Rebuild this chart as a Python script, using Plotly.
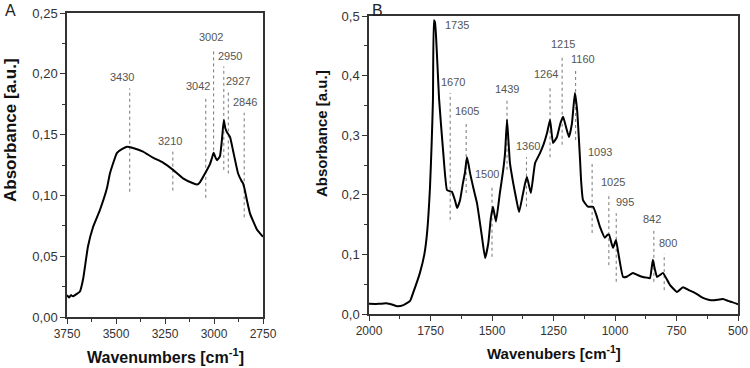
import plotly.graph_objects as go

# ---------------- Panel A data ----------------
A_wn = [3750, 3740, 3730, 3720, 3700, 3684, 3668, 3643, 3617, 3582, 3546, 3531, 3495, 3470,
        3444, 3413, 3362, 3311, 3260, 3209, 3158, 3107, 3085, 3071, 3046, 3020, 3010, 3002,
        2992, 2985, 2970, 2960, 2950, 2942, 2934, 2918, 2903, 2877, 2860, 2852, 2845, 2832,
        2816, 2781, 2750]
A_abs = [0.018, 0.016, 0.018, 0.017, 0.019, 0.021, 0.031, 0.058, 0.074, 0.088, 0.106, 0.118,
         0.135, 0.138, 0.140, 0.139, 0.136, 0.131, 0.127, 0.121, 0.114, 0.110, 0.109, 0.111,
         0.118, 0.126, 0.131, 0.135, 0.131, 0.129, 0.132, 0.145, 0.162, 0.155, 0.152, 0.148,
         0.137, 0.118, 0.112, 0.110, 0.106, 0.096, 0.085, 0.072, 0.066]

A_peaks = [3430, 3210, 3042, 3002, 2950, 2927, 2846]
A_top = [0.188, 0.136, 0.181, 0.221, 0.206, 0.185, 0.168]
A_bot = [0.103, 0.104, 0.098, 0.137, 0.121, 0.118, 0.082]
A_xticks = [3750, 3500, 3250, 3000, 2750]
A_yticks = [0.00, 0.05, 0.10, 0.15, 0.20, 0.25]

# ---------------- Panel B data ----------------
B_wn = [2000, 1960, 1930, 1900, 1886, 1860, 1833, 1821, 1793, 1775, 1764, 1752, 1745, 1740,
        1736, 1732, 1728, 1722, 1715, 1699, 1683, 1672, 1663, 1650, 1642, 1630, 1618, 1610,
        1602, 1595, 1589, 1575, 1561, 1541, 1528, 1515, 1505, 1496, 1484, 1468, 1455, 1447,
        1439, 1433, 1427, 1414, 1400, 1390, 1375, 1365, 1358, 1342, 1325, 1305, 1290, 1276,
        1264, 1252, 1236, 1222, 1211, 1200, 1187, 1175, 1163, 1154, 1142, 1138, 1130, 1110,
        1089, 1075, 1061, 1041, 1030, 1024, 1015, 1008, 996, 984, 967, 950, 927, 906, 886,
        870, 858, 846, 838, 829, 815, 805, 777, 748, 724, 700, 683, 662, 642, 620, 602, 580,
        561, 540, 524, 504, 500]
B_abs = [0.017, 0.017, 0.018, 0.015, 0.013, 0.015, 0.022, 0.035, 0.069, 0.100, 0.136, 0.213,
         0.290, 0.360, 0.493, 0.490, 0.470, 0.420, 0.360, 0.275, 0.208, 0.206, 0.205, 0.190,
         0.178, 0.191, 0.220, 0.237, 0.263, 0.250, 0.236, 0.210, 0.186, 0.130, 0.094, 0.119,
         0.160, 0.180, 0.155, 0.203, 0.240, 0.270, 0.326, 0.290, 0.253, 0.220, 0.190, 0.171,
         0.200, 0.220, 0.230, 0.203, 0.253, 0.270, 0.285, 0.304, 0.326, 0.287, 0.297, 0.320,
         0.331, 0.315, 0.297, 0.320, 0.371, 0.342, 0.258, 0.225, 0.191, 0.180, 0.180, 0.165,
         0.146, 0.128, 0.133, 0.133, 0.120, 0.111, 0.124, 0.096, 0.062, 0.063, 0.069, 0.065,
         0.062, 0.061, 0.060, 0.091, 0.075, 0.062, 0.066, 0.069, 0.049, 0.037, 0.045, 0.040,
         0.037, 0.032, 0.027, 0.024, 0.023, 0.024, 0.025, 0.022, 0.020, 0.017, 0.016]

B_peaks = [1670, 1605, 1500, 1439, 1360, 1264, 1215, 1160, 1093, 1025, 995, 842, 800]
B_top = [0.371, 0.322, 0.216, 0.359, 0.263, 0.384, 0.435, 0.409, 0.253, 0.203, 0.169, 0.141, 0.101]
B_bot = [0.158, 0.203, 0.096, 0.242, 0.180, 0.263, 0.284, 0.292, 0.136, 0.082, 0.054, 0.054, 0.040]
B_main_peak = 1735
B_main_peak_y = 0.485
B_xticks = [2000, 1750, 1500, 1250, 1000, 750, 500]
B_yticks = [0.0, 0.1, 0.2, 0.3, 0.4, 0.5]

# label horizontal nudges (pixels), as in the original figure
A_shift = [-8, -3, -8, -3, 6, 10, 1]
B_shift = [3, 1, -5, 0, 2, -4, 1, 7, 8, 4, 9, -2, 4]

FONT = "Liberation Sans, Arial, sans-serif"
LBL = dict(family=FONT, size=11, color="#555555")


def dotted(peaks, tops, bots):
    xs, ys = [], []
    for p, t, b in zip(peaks, tops, bots):
        xs += [p, p, None]
        ys += [b, t, None]
    return xs, ys


fig = go.Figure()

ax, ay = dotted(A_peaks, A_top, A_bot)
fig.add_trace(go.Scatter(x=ax, y=ay, mode="lines", line=dict(color="#777777", width=1, dash="dot"),
                         xaxis="x", yaxis="y", hoverinfo="skip", showlegend=False))
fig.add_trace(go.Scatter(x=A_wn, y=A_abs, mode="lines",
                         line=dict(color="black", width=2, shape="spline", smoothing=0.4),
                         xaxis="x", yaxis="y", showlegend=False))

bx, by = dotted(B_peaks, B_top, B_bot)
fig.add_trace(go.Scatter(x=bx, y=by, mode="lines", line=dict(color="#777777", width=1, dash="dot"),
                         xaxis="x2", yaxis="y2", hoverinfo="skip", showlegend=False))
fig.add_trace(go.Scatter(x=B_wn, y=B_abs, mode="lines",
                         line=dict(color="black", width=2, shape="spline", smoothing=0.4),
                         xaxis="x2", yaxis="y2", showlegend=False))

ann = []
for p, t, s in zip(A_peaks, A_top, A_shift):
    ann.append(dict(x=p, y=t, xref="x", yref="y", text=str(p), showarrow=False,
                    yanchor="bottom", xanchor="center", xshift=s, yshift=3, font=LBL))
for p, t, s in zip(B_peaks, B_top, B_shift):
    ann.append(dict(x=p, y=t, xref="x2", yref="y2", text=str(p), showarrow=False,
                    yanchor="bottom", xanchor="center", xshift=s, yshift=3, font=LBL))
ann.append(dict(x=B_main_peak, y=B_main_peak_y, xref="x2", yref="y2", text=str(B_main_peak),
                showarrow=False, yanchor="middle", xanchor="left", xshift=9, font=LBL))

# panel letters and axis titles
ann += [
    dict(x=10 / 750, y=1 - 10 / 368, xref="paper", yref="paper", text="A", showarrow=False,
         xanchor="center", yanchor="middle", font=dict(family=FONT, size=16, color="#222")),
    dict(x=377 / 750, y=1 - 10 / 368, xref="paper", yref="paper", text="B", showarrow=False,
         xanchor="center", yanchor="middle", font=dict(family=FONT, size=16, color="#222")),
    dict(x=165 / 750, y=1 - 356 / 368, xref="paper", yref="paper",
         text="<b>Wavenumbers [cm<sup>-1</sup>]</b>", showarrow=False,
         xanchor="center", yanchor="middle", font=dict(family=FONT, size=16, color="#111")),
    dict(x=554 / 750, y=1 - 352 / 368, xref="paper", yref="paper",
         text="<b>Wavenubers [cm<sup>-1</sup>]</b>", showarrow=False,
         xanchor="center", yanchor="middle", font=dict(family=FONT, size=15, color="#111")),
    dict(x=10 / 750, y=1 - 130 / 368, xref="paper", yref="paper",
         text="<b>Absorbance [a.u.]</b>", showarrow=False, textangle=-90,
         xanchor="center", yanchor="middle", font=dict(family=FONT, size=17, color="#111")),
    dict(x=322 / 750, y=1 - 134 / 368, xref="paper", yref="paper",
         text="<b>Absorbance [a.u.]</b>", showarrow=False, textangle=-90,
         xanchor="center", yanchor="middle", font=dict(family=FONT, size=15, color="#111")),
]

XTICKF = dict(family=FONT, size=12, color="#333333")
YTICKF = dict(family=FONT, size=13, color="#333333")
common = dict(showgrid=False, zeroline=False, showline=True, linecolor="#333333", linewidth=1.5,
              mirror=True, ticks="outside", ticklen=5, tickwidth=1.2, tickcolor="#333333",
              automargin=False)

fig.update_layout(
    width=750, height=368, margin=dict(l=0, r=0, t=0, b=0, autoexpand=False),
    paper_bgcolor="white", plot_bgcolor="white", separators=", ",
    showlegend=False,
    xaxis=dict(domain=[67 / 750, 263 / 750], range=[3750, 2750], tickmode="array",
               tickvals=A_xticks, tickformat="d", anchor="y", tickfont=XTICKF,
               minor=dict(ticks="outside", ticklen=3, dtick=125, tick0=2750, tickcolor="#333333"),
               **common),
    yaxis=dict(domain=[1 - 317 / 368, 1 - 13 / 368], range=[0, 0.25], tickmode="array",
               tickvals=A_yticks, tickformat=".2f", anchor="x", tickfont=YTICKF,
               minor=dict(ticks="outside", ticklen=3, dtick=0.025, tick0=0, tickcolor="#333333"),
               **common),
    xaxis2=dict(domain=[369 / 750, 738 / 750], range=[2000, 500], tickmode="array",
                tickvals=B_xticks, tickformat="d", anchor="y2", tickfont=XTICKF,
                minor=dict(ticks="outside", ticklen=3, dtick=125, tick0=500, tickcolor="#333333"),
                **common),
    yaxis2=dict(domain=[1 - 314 / 368, 1 - 16 / 368], range=[0, 0.5], tickmode="array",
                tickvals=B_yticks, tickformat=".1f", anchor="x2", tickfont=YTICKF,
                minor=dict(ticks="outside", ticklen=3, dtick=0.05, tick0=0, tickcolor="#333333"),
                **common),
    annotations=ann,
)

fig.write_html("out.html")
